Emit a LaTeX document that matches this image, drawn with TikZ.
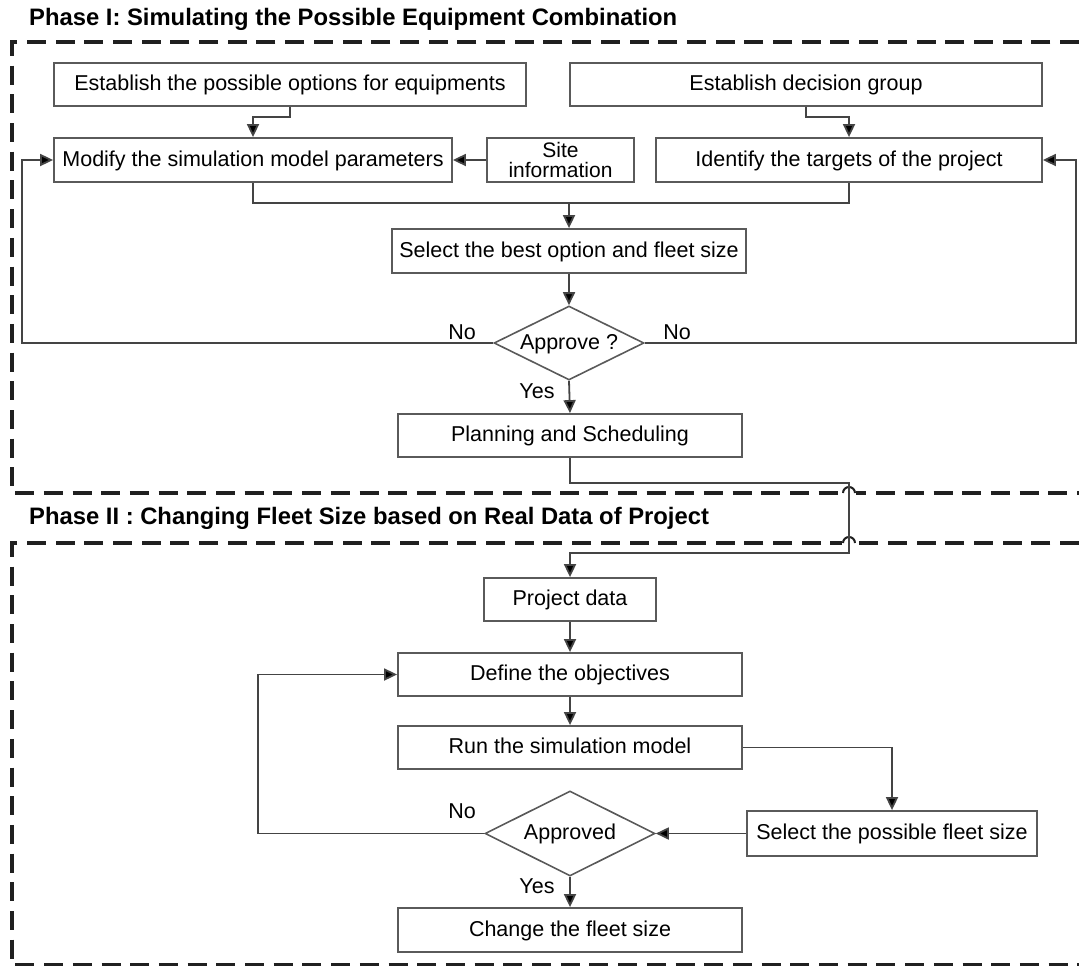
\documentclass[tikz,border=0pt]{standalone}
\usepackage{fontspec}
\setmainfont{Liberation Sans}
\usetikzlibrary{arrows.meta,shapes.geometric}
\definecolor{boxgray}{HTML}{5A5A5A}
\definecolor{linegray}{HTML}{444444}
\definecolor{dashcol}{HTML}{202020}
\tikzset{
  box/.style={draw=boxgray, line width=1.8pt, fill=white, minimum height=44pt, inner sep=0pt,
    font=\fontsize{21.5}{18}\selectfont, text=black, text height=15.5pt, text depth=3pt},
  sitebox/.style={draw=boxgray, line width=1.8pt, fill=white, minimum height=44pt, inner sep=0pt,
    font=\fontsize{21}{19.5}\selectfont, text=black, align=center},
  dec/.style={draw=boxgray, line width=1.6pt, fill=white, diamond, aspect=2, inner sep=0pt,
    font=\fontsize{21.5}{18}\selectfont, text=black, text height=15.5pt, text depth=3pt},
  conn/.style={draw=linegray, line width=1.8pt},
  arr/.style={conn, -{Triangle[length=13pt,width=12pt,fill=black]}},
  phase/.style={draw=dashcol, line width=3.2pt, dash pattern=on 19pt off 9.7pt},
  lbl/.style={font=\fontsize{21.5}{21}\selectfont, text=black, inner sep=0pt},
  ttl/.style={font=\fontsize{23.8}{24}\selectfont\bfseries, text=black, inner sep=0pt, anchor=west},
  hop/.style={draw=dashcol, line width=2pt}
}
\begin{document}
\begin{tikzpicture}[x=1pt,y=-1pt]
\useasboundingbox (0,0) rectangle (1079,966);
% phase frames
\draw[phase] (1079,42) -- (12,42) -- (12,493) -- (1079,493);
\draw[phase] (1079,543) -- (12,543) -- (12,965) -- (1079,965);
\fill[white] (842,488) rectangle (856,498);
\fill[white] (842,538) rectangle (856,548);
\draw[hop] (843,493) arc[start angle=180,end angle=360,radius=6];
\draw[hop] (843,543) arc[start angle=180,end angle=360,radius=6];
% titles
\node[ttl] (t1) at (29,19) {Phase I: Simulating the Possible Equipment Combination};
\node[ttl] (t2) at (29,518) {Phase II : Changing Fleet Size based on Real Data of Project};
% phase I nodes
\node[box, minimum width=472pt, minimum height=43pt] (b1) at (290,84.5) {Establish the possible options for equipments};
\node[box, minimum width=472pt, minimum height=43pt] (b2) at (806,84.5) {Establish decision group};
\node[box, minimum width=398pt] (b3) at (253,160) {Modify the simulation model parameters};
\node[sitebox, minimum width=147pt] (site) at (560.5,160) {Site\\information};
\node[box, minimum width=386pt] (b4) at (849,160) {Identify the targets of the project};
\node[box, minimum width=354pt] (b5) at (569,251) {Select the best option and fleet size};
\node[dec, minimum width=150pt, minimum height=74pt] (d1) at (569,343) {Approve ?};
\node[box, minimum width=344pt, minimum height=43pt] (b6) at (570,435.5) {Planning and Scheduling};
% phase II nodes
\node[box, minimum width=172pt, minimum height=43pt] (b7) at (570,599.5) {Project data};
\node[box, minimum width=344pt, minimum height=43pt] (b8) at (570,674.5) {Define the objectives};
\node[box, minimum width=344pt, minimum height=43pt] (b9) at (570,747.5) {Run the simulation model};
\node[dec, minimum width=170pt, minimum height=85pt] (d2) at (570,833.5) {Approved};
\node[box, minimum width=290pt, minimum height=45pt] (b10) at (892,833.5) {Select the possible fleet size};
\node[box, minimum width=344pt] (b11) at (570,930) {Change the fleet size};
% coordinates
\coordinate (j) at (569,203);
\coordinate (c1) at (570,483);
\coordinate (c2) at (849,553);
% phase I connectors
\draw[arr] (b1.south) -- ++(0,10) -| (b3.north);
\draw[arr] (b2.south) -- ++(0,10) -| (b4.north);
\draw[arr] (site.west) -- (b3.east);
\draw[conn] (b3.south) |- (j) -| (b4.south);
\draw[arr] (j) -- (b5.north);
\draw[arr] (b5.south) -- (d1.north);
\draw[arr] (d1.west) -- ++(-471,0) |- (b3.west);
\draw[arr] (d1.east) -- ++(431,0) |- (b4.east);
\draw[arr] (d1.south) -- (b6.north);
\draw[arr] (b6.south) -- (c1) -| (c2) -| (b7.north);
% phase II connectors
\draw[arr] (b7.south) -- (b8.north);
\draw[arr] (b8.south) -- (b9.north);
\draw[arr] (b9.east) -| (b10.north);
\draw[arr] (b10.west) -- (d2.east);
\draw[arr] (d2.west) -- ++(-226,0) |- (b8.west);
\draw[arr] (d2.south) -- (b11.north);
% labels
\node[lbl] (n1) at (462,332) {No};
\node[lbl] (n2) at (677,332) {No};
\node[lbl] (y1) at (537,391) {Yes};
\node[lbl] (n3) at (462,811) {No};
\node[lbl] (y2) at (537,886) {Yes};
\end{tikzpicture}
\end{document}
